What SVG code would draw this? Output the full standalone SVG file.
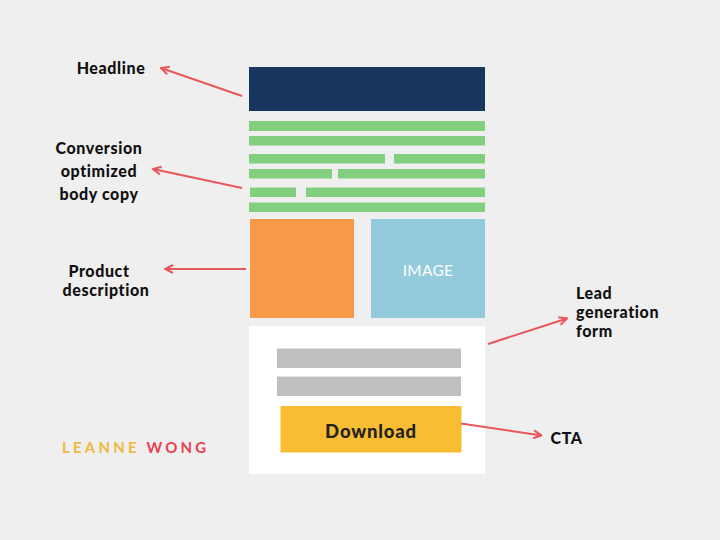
<svg xmlns="http://www.w3.org/2000/svg" width="720" height="540" viewBox="0 0 720 540">
<defs>
<style>
.lbl{font-family:Lato,"Liberation Sans",sans-serif;font-weight:900;font-size:16px;letter-spacing:0.6px;fill:#111}
.g{fill:#83cf80}
.conn{stroke:#e8575a;stroke-width:2;fill:none}
</style>
<marker id="ah" viewBox="0 0 10 10" refX="9" refY="5" markerWidth="10" markerHeight="10" markerUnits="userSpaceOnUse" orient="auto">
<path d="M1,1 L9,5 L1,9" fill="none" stroke="#e8575a" stroke-width="2"/>
</marker>
</defs>
<rect width="720" height="540" fill="#efefef"/>
<g id="headline-block"><rect x="249" y="67" width="236" height="44" fill="#18375f"/></g>
<g id="body-copy">
<rect class="g" x="249" y="121" width="236" height="10"/>
<rect class="g" x="249" y="136" width="236" height="9.5"/>
<rect class="g" x="249" y="154" width="136" height="9.5"/>
<rect class="g" x="394" y="154" width="91" height="9.5"/>
<rect class="g" x="249" y="169" width="83" height="9.5"/>
<rect class="g" x="338" y="169" width="147" height="9.5"/>
<rect class="g" x="250" y="187.5" width="46" height="9.5"/>
<rect class="g" x="306" y="187.5" width="179" height="9.5"/>
<rect class="g" x="249" y="202.5" width="236" height="9.5"/>
</g>
<g id="product-box"><rect x="250" y="219" width="104" height="99" fill="#f8994a"/></g>
<g id="image-box"><rect x="371" y="219" width="114" height="99" fill="#93cbdd"/>
<text x="428" y="276" text-anchor="middle" font-family="Lato,'Liberation Sans',sans-serif" font-size="15.5" letter-spacing="0.3" fill="#fff">IMAGE</text></g>
<g id="form">
<rect x="249" y="326" width="236" height="148" fill="#fff"/>
<rect x="277" y="348.5" width="184" height="19.5" fill="#bfbfbf"/>
<rect x="277" y="376.5" width="184" height="19.5" fill="#bfbfbf"/>
</g>
<g id="cta-button"><rect x="280.5" y="406" width="181" height="46.5" fill="#f8bd33"/>
<text x="371" y="438" text-anchor="middle" font-family="Lato,'Liberation Sans',sans-serif" font-weight="900" font-size="18.5" letter-spacing="0.8" fill="#222">Download</text></g>
<g id="labels">
<text class="lbl" x="111" y="73.5" text-anchor="middle">Headline</text>
<text class="lbl" text-anchor="middle"><tspan x="99" y="154">Conversion</tspan><tspan x="99" y="177">optimized</tspan><tspan x="99" y="199.5">body copy</tspan></text>
<text class="lbl" text-anchor="middle"><tspan x="99" y="276.5">Product</tspan><tspan x="106" y="296">description</tspan></text>
<text class="lbl"><tspan x="576" y="299">Lead</tspan><tspan x="576" y="318">generation</tspan><tspan x="576" y="336.5">form</tspan></text>
<text class="lbl" x="550.5" y="443.5">CTA</text>
</g>
<g id="brand"><text x="62" y="452.8" font-family="Lato,'Liberation Sans',sans-serif" font-weight="bold" font-size="15" letter-spacing="3.2"><tspan fill="#f0b941">LEANNE</tspan><tspan fill="#e8414f"> WONG</tspan></text></g>
<g id="connectors">
<line class="conn" x1="242" y1="96" x2="161" y2="68" marker-end="url(#ah)"/>
<line class="conn" x1="242" y1="188" x2="153" y2="169" marker-end="url(#ah)"/>
<line class="conn" x1="246" y1="269" x2="165" y2="269" marker-end="url(#ah)"/>
<line class="conn" x1="488" y1="344" x2="567" y2="318.5" marker-end="url(#ah)"/>
<line class="conn" x1="461" y1="423.5" x2="541.5" y2="435.5" marker-end="url(#ah)"/>
</g>
</svg>
